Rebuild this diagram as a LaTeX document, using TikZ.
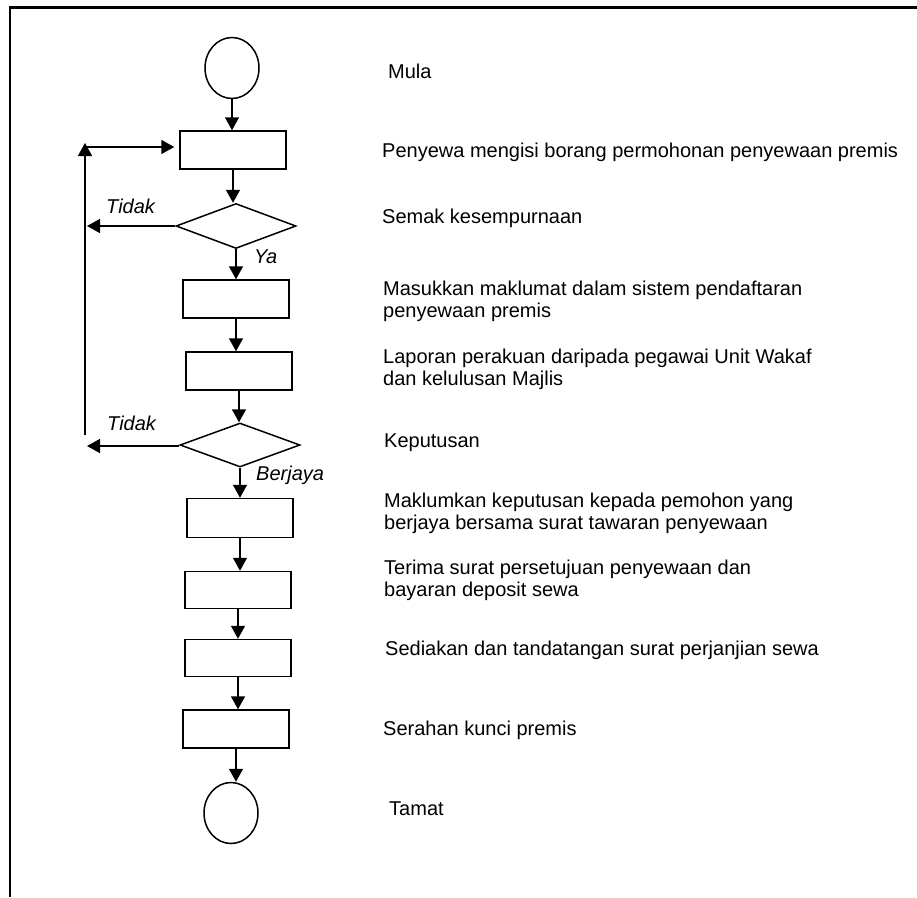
\documentclass[tikz,border=0pt]{standalone}
\usepackage{fontspec}
\setmainfont{Liberation Sans}
\usetikzlibrary{shapes.geometric,arrows.meta}
\begin{document}
\begin{tikzpicture}[x=1pt,y=-1pt,
  every node/.style={font=\fontsize{20}{23}\selectfont},
  terminal/.style={draw,ellipse,line width=1.5pt,minimum width=54pt,minimum height=61pt,inner sep=0pt},
  process/.style={draw,rectangle,line width=1.5pt,minimum width=106pt,minimum height=38pt,inner sep=0pt},
  decision/.style={draw,diamond,line width=1.5pt,minimum width=120pt,minimum height=45pt,inner sep=0pt},
  flow/.style={line width=1.5pt,-{Triangle[length=13pt,width=14pt]}},
  desc/.style={anchor=base west,inner sep=0pt},
  branch/.style={anchor=base west,inner sep=0pt,font=\fontsize{20}{23}\selectfont\itshape},
]
\useasboundingbox (0,0) rectangle (917,897);

% page frame (top and left edges)
\draw[line width=2.2pt] (10,897) -- (10,7.5) -- (917,7.5);

% flowchart symbols
\node[terminal] (start) at (232,68) {};
\node[process]  (b1) at (233,150) {};
\node[decision] (d1) at (236,226) {};
\node[process]  (b2) at (236,299) {};
\node[process]  (b3) at (239,371) {};
\node[decision,minimum height=44pt] (d2) at (240,445) {};
\node[process,minimum height=39pt] (b4) at (240,518) {};
\node[process,minimum height=37pt] (b5) at (238,590) {};
\node[process,minimum height=37pt] (b6) at (238,658) {};
\node[process]  (b7) at (236,729) {};
\node[terminal] (end) at (231,813) {};

% main flow
\draw[flow] (start) -- (start |- b1.north);
\draw[flow] (b1) -- (b1 |- d1.north);
\draw[flow] (d1) -- (d1 |- b2.north);
\draw[flow] (b2) -- (b2 |- b3.north);
\draw[flow] (b3) -- (b3 |- d2.north);
\draw[flow] (d2) -- (d2 |- b4.north);
\draw[flow] (b4) -- (b4 |- b5.north);
\draw[flow] (b5) -- (b5 |- b6.north);
\draw[flow] (b6) -- (b6 |- b7.north);
\draw[flow] (b7) -- (b7 |- end.north);

% return path for rejected applications
\coordinate (fbBot) at (85,435);
\coordinate (fbTop) at (85,143);
\coordinate (fbCorner) at (85,147);
\coordinate (fbIn1) at (87,226);
\coordinate (fbIn2) at (87,446);
\draw[flow] (fbBot) -- (fbTop);
\draw[flow,shorten >=5pt] (fbCorner) -- (fbCorner -| b1.west);
\draw[flow] (d1.west) -- (fbIn1);
\draw[flow] (d2.west |- fbIn2) -- (fbIn2);

% branch labels
\node[branch] (no1)  at (106,213) {Tidak};
\node[branch] (yes1) at (254,263) {Ya};
\node[branch] (no2)  at (107,430) {Tidak};
\node[branch] (yes2) at (256,480) {Berjaya};

% step descriptions
\node[desc] (t1)  at (388,78)  {Mula};
\node[desc] (t2)  at (382,157) {Penyewa mengisi borang permohonan penyewaan premis};
\node[desc] (t3)  at (382,223) {Semak kesempurnaan};
\node[desc] (t4a) at (383,295) {Masukkan maklumat dalam sistem pendaftaran};
\node[desc] (t4b) at (383,317) {penyewaan premis};
\node[desc] (t5a) at (383,363) {Laporan perakuan daripada pegawai Unit Wakaf};
\node[desc] (t5b) at (383,385) {dan kelulusan Majlis};
\node[desc] (t6)  at (384,447) {Keputusan};
\node[desc] (t7a) at (384,507) {Maklumkan keputusan kepada pemohon yang};
\node[desc] (t7b) at (384,529) {berjaya bersama surat tawaran penyewaan};
\node[desc] (t8a) at (384,574) {Terima surat persetujuan penyewaan dan};
\node[desc] (t8b) at (384,596) {bayaran deposit sewa};
\node[desc] (t9)  at (385,655) {Sediakan dan tandatangan surat perjanjian sewa};
\node[desc] (t10) at (383,735) {Serahan kunci premis};
\node[desc] (t11) at (389,815) {Tamat};
\end{tikzpicture}
\end{document}
